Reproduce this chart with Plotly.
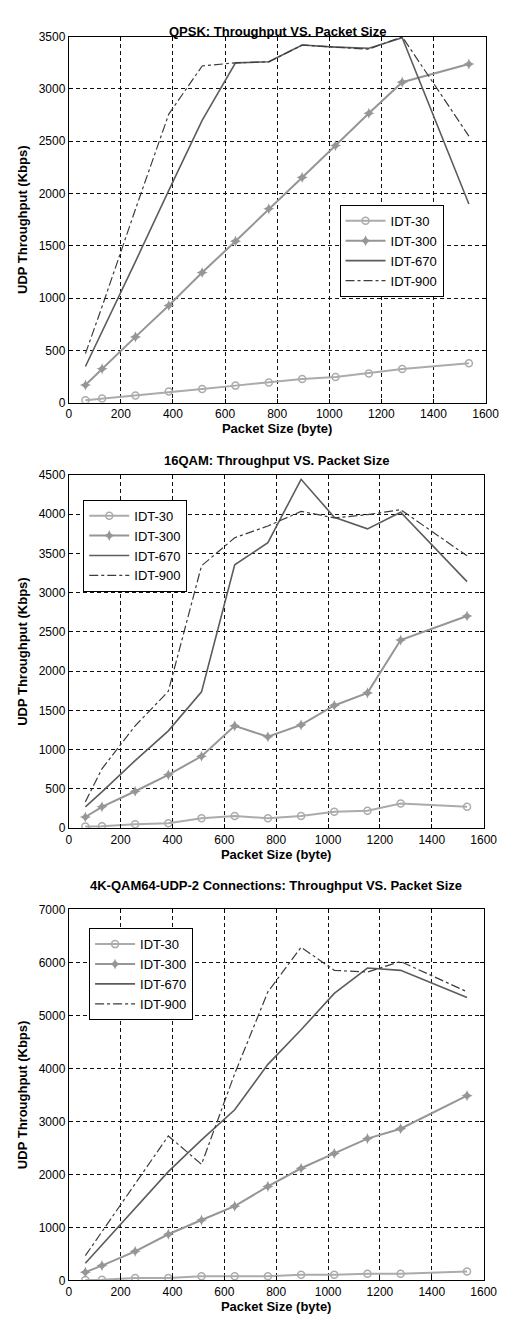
import plotly.graph_objects as go

# Packet sizes (bytes) used in every test
packet_size = [64, 128, 256, 384, 512, 640, 768, 896, 1024, 1152, 1280, 1536]

# QPSK throughput (Kbps)
qpsk_idt30 = [25, 41, 69, 107, 132, 164, 195, 227, 246, 281, 322, 378]
qpsk_idt300 = [170, 325, 630, 930, 1245, 1545, 1854, 2154, 2459, 2768, 3065, 3238]
qpsk_idt670 = [347, 680, 1350, 2030, 2700, 3250, 3260, 3420, 3400, 3390, 3490, 1900]
qpsk_idt900 = [470, 920, 1850, 2760, 3220, 3250, 3260, 3420, 3400, 3380, 3500, 2550]

# 16QAM throughput (Kbps)
qam16_idt30 = [21, 25, 50, 63, 126, 156, 126, 156, 210, 223, 315, 273]
qam16_idt300 = [143, 273, 471, 681, 917, 1304, 1165, 1316, 1564, 1724, 2397, 2704]
qam16_idt670 = [273, 463, 862, 1241, 1737, 3356, 3638, 4445, 3962, 3814, 4025, 3142]
qam16_idt900 = [336, 757, 1304, 1745, 3343, 3701, 3850, 4037, 3953, 3995, 4058, 3470]

# 4K-QAM64, 2 UDP connections throughput (Kbps)
qam64_idt30 = [10, 12, 44, 44, 80, 80, 80, 106, 106, 124, 124, 168]
qam64_idt300 = [156, 280, 548, 871, 1139, 1400, 1773, 2116, 2396, 2676, 2862, 3485]
qam64_idt670 = [324, 670, 1360, 2053, 2650, 3220, 4076, 4729, 5414, 5893, 5849, 5339]
qam64_idt900 = [467, 919, 1823, 2726, 2190, 3900, 5445, 6285, 5850, 5818, 6017, 5445]

series_names = ["IDT-30", "IDT-300", "IDT-670", "IDT-900"]
panel_titles = [
    "QPSK: Throughput VS. Packet Size",
    "16QAM: Throughput VS. Packet Size",
    "4K-QAM64-UDP-2 Connections: Throughput VS. Packet Size",
]
y_ranges = [(0, 3500, 500), (0, 4500, 500), (0, 7000, 1000)]
panel_data = [
    [qpsk_idt30, qpsk_idt300, qpsk_idt670, qpsk_idt900],
    [qam16_idt30, qam16_idt300, qam16_idt670, qam16_idt900],
    [qam64_idt30, qam64_idt300, qam64_idt670, qam64_idt900],
]

W, H = 516, 1326
# pixel boxes of the three plot areas: (left, right, top, bottom)
boxes = [(68, 499, 30, 400), (68, 497, 473, 830), (68, 497, 912, 1287)]
legend_pos = [(348, 200), (83, 498), (89, 931)]

styles = [
    dict(line=dict(color="#ababab", width=2), marker=dict(symbol="circle-open", size=7,
         color="#ababab", line=dict(width=1.5)), mode="lines+markers"),
    dict(line=dict(color="#969696", width=2), marker=dict(symbol="star-diamond", size=8,
         color="#969696"), mode="lines+markers"),
    dict(line=dict(color="#5c5c5c", width=1.6), mode="lines"),
    dict(line=dict(color="#3c3c3c", width=1.2, dash="dashdot"), mode="lines"),
]

font = "Liberation Sans, Arial, sans-serif"
fig = go.Figure()
layout = dict(width=W, height=H, margin=dict(l=0, r=0, t=0, b=0),
              paper_bgcolor="white", plot_bgcolor="white", showlegend=True,
              annotations=[])

for i in range(3):
    l, r, t, b = boxes[i]
    sfx = "" if i == 0 else str(i + 1)
    xa, ya = "x" + sfx, "y" + sfx
    leg = "legend" + sfx
    for name, vals, st in zip(series_names, panel_data[i], styles):
        fig.add_trace(go.Scatter(x=packet_size, y=vals, name=name, xaxis=xa, yaxis=ya,
                                 legend=leg, **st))
    ymin, ymax, ystep = y_ranges[i]
    axis_common = dict(showline=True, linecolor="black", linewidth=1, mirror="ticks",
                       ticks="inside", ticklen=4, tickcolor="black",
                       showgrid=True, gridcolor="#111111", gridwidth=1, griddash="4px,3px",
                       zeroline=False, tickfont=dict(family=font, size=12, color="black"))
    layout["xaxis" + sfx] = dict(domain=[l / W, r / W], range=[0, 1600], dtick=200,
                                 tick0=0, anchor=ya,
                                 title=dict(text="<b>Packet Size (byte)</b>", standoff=3,
                                            font=dict(family=font, size=13, color="black")),
                                 **axis_common)
    layout["yaxis" + sfx] = dict(domain=[1 - b / H, 1 - t / H], range=[ymin, ymax],
                                 dtick=ystep, tick0=0, anchor=xa,
                                 title=dict(text="<b>UDP Throughput (Kbps)</b>", standoff=8,
                                            font=dict(family=font, size=13, color="black")),
                                 **axis_common)
    lx, ly = legend_pos[i]
    layout[leg] = dict(x=lx / W, y=1 - ly / H, xanchor="left", yanchor="top",
                       bgcolor="white", bordercolor="black", borderwidth=1,
                       font=dict(family=font, size=13, color="black"),
                       itemwidth=40, tracegroupgap=0)
    layout["annotations"].append(dict(text="<b>" + panel_titles[i] + "</b>",
                                      x=(l + r) / 2 / W, y=1 - (t - 15) / H,
                                      xref="paper", yref="paper", showarrow=False,
                                      font=dict(family=font, size=13, color="black")))

fig.update_layout(**layout)
fig.write_html("out.html")
